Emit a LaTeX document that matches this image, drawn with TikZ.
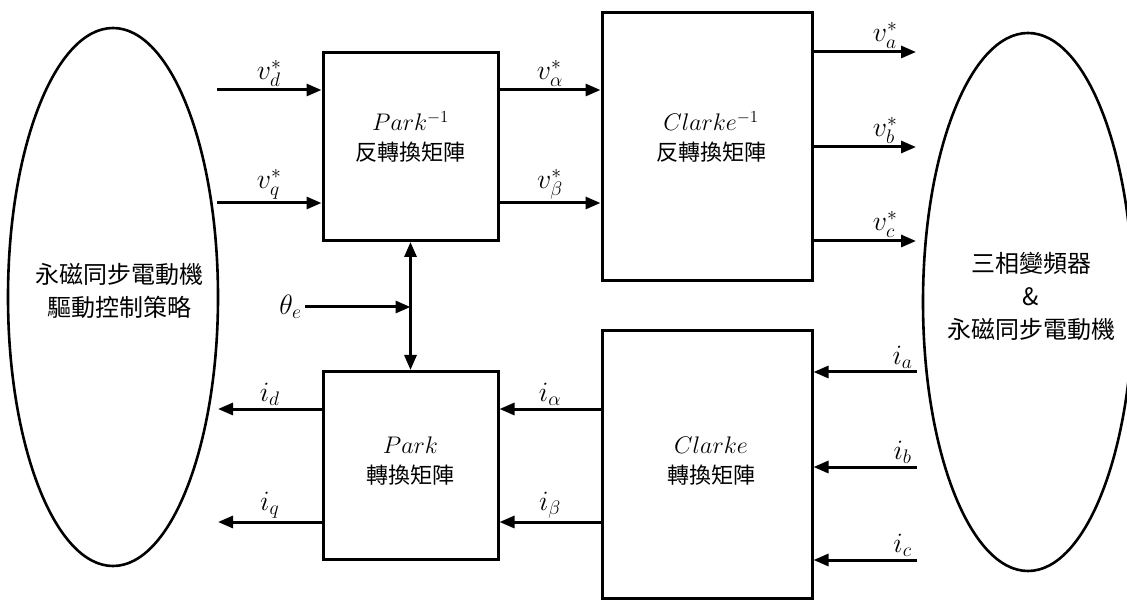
\RequirePackage{fix-cm}
\documentclass[tikz,border=0pt]{standalone}
\usepackage{fontspec}
\newfontfamily\cjk{Noto Sans CJK TC}
\newcommand{\mtxt}[1]{{\fontsize{24}{30}\selectfont$#1$}}
\usetikzlibrary{shapes.geometric,arrows.meta}

\begin{document}
\begin{tikzpicture}[x=1pt, y=-1pt, >={Triangle[length=15pt,width=12pt]},
  line width=3pt,
  blk/.style={draw, minimum width=175pt, minimum height=188pt, inner sep=0pt},
  wblk/.style={draw, minimum width=210pt, minimum height=268pt, inner sep=0pt},
  oval/.style={draw, ellipse, line width=2.6pt, minimum width=210pt,
    minimum height=538pt, inner sep=0pt},
  btxt/.style={align=center, font=\fontsize{22}{30}\selectfont\cjk},
  otxt/.style={align=center, font=\fontsize{24}{33}\selectfont\cjk},
  sig/.style={font=\fontsize{28}{28}\selectfont, inner sep=2pt}]
  \useasboundingbox (0,0) rectangle (1127,601);
  % the two ends
  \node[oval] (ctrl) at (113,297) {};
  \node[otxt] (ctrl-t) at (119,291) {永磁同步電動機\\驅動控制策略};
  \node[oval] (inv) at (1028,302) {};
  \node[otxt] (inv-t) at (1031,296) {三相變頻器\\\&\\永磁同步電動機};
  % transform blocks
  \node[blk] (pinv) at (410.5,146.5) {};
  \node[btxt] (pinv-t) at (410.5,137) {\mtxt{Park^{-1}}\\反轉換矩陣};
  \node[wblk] (cinv) at (707,146.5) {};
  \node[btxt] (cinv-t) at (711,137) {\mtxt{Clarke^{-1}}\\反轉換矩陣};
  \node[blk] (park) at (410.5,465.5) {};
  \node[btxt] (park-t) at (410.5,461) {\mtxt{Park}\\轉換矩陣};
  \node[wblk] (cl) at (707,464.5) {};
  \node[btxt] (cl-t) at (711,461) {\mtxt{Clarke}\\轉換矩陣};
  % free ends
  \coordinate (vd) at (217,90);
  \coordinate (vq) at (217,203);
  \coordinate (va) at (916,52);
  \coordinate (vb) at (916,147);
  \coordinate (vc) at (916,241);
  \coordinate (ia) at (917,372);
  \coordinate (ib) at (917,467);
  \coordinate (ic) at (917,560);
  \coordinate (id) at (218,409);
  \coordinate (iq) at (218,522);
  \coordinate (th) at (305,307);
  % voltage path
  \draw[->] (vd) -- node[sig, above] {$v_d^*$} (vd -| pinv.west);
  \draw[->] (vq) -- node[sig, above] {$v_q^*$} (vq -| pinv.west);
  \draw[->] (pinv.east |- vd) -- node[sig, above] {$v_\alpha^*$} (cinv.west |- vd);
  \draw[->] (pinv.east |- vq) -- node[sig, above] {$v_\beta^*$} (cinv.west |- vq);
  \draw[->] (cinv.east |- va) -- node[sig, above, pos=0.7] {$v_a^*$} (va);
  \draw[->] (cinv.east |- vb) -- node[sig, above, pos=0.7] {$v_b^*$} (vb);
  \draw[->] (cinv.east |- vc) -- node[sig, above, pos=0.7] {$v_c^*$} (vc);
  % current path
  \draw[->] (ia) -- node[sig, above, pos=0.14] {$i_a$} (ia -| cl.east);
  \draw[->] (ib) -- node[sig, above, pos=0.14] {$i_b$} (ib -| cl.east);
  \draw[->] (ic) -- node[sig, above, pos=0.14] {$i_c$} (ic -| cl.east);
  \draw[->] (cl.west |- id) -- node[sig, above] {$i_\alpha$} (park.east |- id);
  \draw[->] (cl.west |- iq) -- node[sig, above] {$i_\beta$} (park.east |- iq);
  \draw[->] (park.west |- id) -- node[sig, above] {$i_d$} (id);
  \draw[->] (park.west |- iq) -- node[sig, above] {$i_q$} (iq);
  % angle
  \draw[<->] (pinv.south) -- (park.north);
  \draw[->] (th) node[sig, left] {$\theta_e$} -- (th -| pinv.south);
\end{tikzpicture}
\end{document}
